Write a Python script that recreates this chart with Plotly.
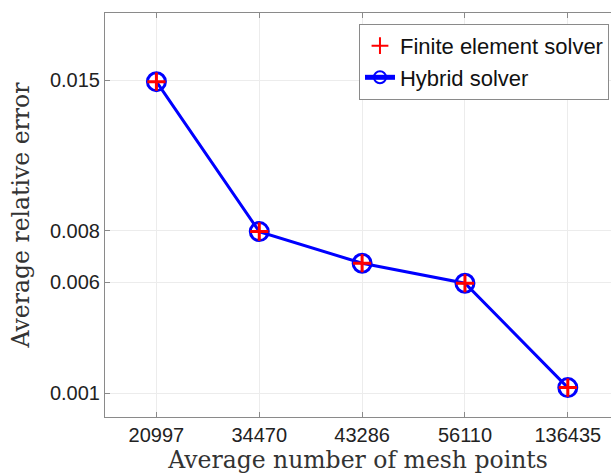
import plotly.graph_objects as go

mesh_points = ["20997", "34470", "43286", "56110", "136435"]
fe_error = [0.01494, 0.00826, 0.00685, 0.00596, 0.00131]
hybrid_error = [0.01494, 0.00826, 0.00685, 0.00596, 0.00131]
ytick_vals = [0.00105, 0.006, 0.0083, 0.015]
ytick_text = ["0.001", "0.006", "0.008", "0.015"]

fig = go.Figure()
fig.add_trace(go.Scatter(
    x=mesh_points, y=hybrid_error, name="Hybrid solver", mode="lines+markers",
    line=dict(color="#0000ff", width=3),
    marker=dict(symbol="circle-open", size=18, color="#0000ff", line=dict(width=3, color="#0000ff")),
    legendrank=2,
))
fig.add_trace(go.Scatter(
    x=mesh_points, y=fe_error, name="Finite element solver", mode="markers",
    marker=dict(symbol="cross-thin", size=13, color="#ff0000", line=dict(width=3, color="#ff0000")),
    legendrank=1,
))

axis_common = dict(
    showline=True, linecolor="#8a8a8a", linewidth=1,
    showgrid=True, gridcolor="#ececec", gridwidth=1,
    ticks="inside", ticklen=5, tickcolor="#8a8a8a",
    zeroline=False,
)

fig.update_layout(
    width=611, height=475,
    margin=dict(l=105, r=0, t=13, b=58),
    paper_bgcolor="white", plot_bgcolor="white",
    font=dict(family="Liberation Sans, Arial, sans-serif", color="#222222"),
    xaxis=dict(
        type="category", range=[-0.5, 4.42], mirror="ticks",
        tickfont=dict(size=20, family="Liberation Sans"),
        title=dict(text="Average number of mesh points",
                   font=dict(family="DejaVu Serif", size=23.5, color="#333333"), standoff=6),
        **axis_common,
    ),
    yaxis=dict(
        range=[0, 0.018],
        tickvals=ytick_vals, ticktext=ytick_text,
        tickfont=dict(size=20, family="Liberation Sans"),
        title=dict(text="Average relative error",
                   font=dict(family="DejaVu Serif", size=23.5, color="#333333"), standoff=13),
        **axis_common,
    ),
    legend=dict(
        x=0.996, xanchor="right", y=0.973, yanchor="top",
        bgcolor="white", bordercolor="#8a8a8a", borderwidth=1,
        font=dict(size=22, family="Liberation Sans", color="#111111"),
        itemsizing="constant", tracegroupgap=0,
    ),
    showlegend=True,
)

fig.write_html("out.html")
